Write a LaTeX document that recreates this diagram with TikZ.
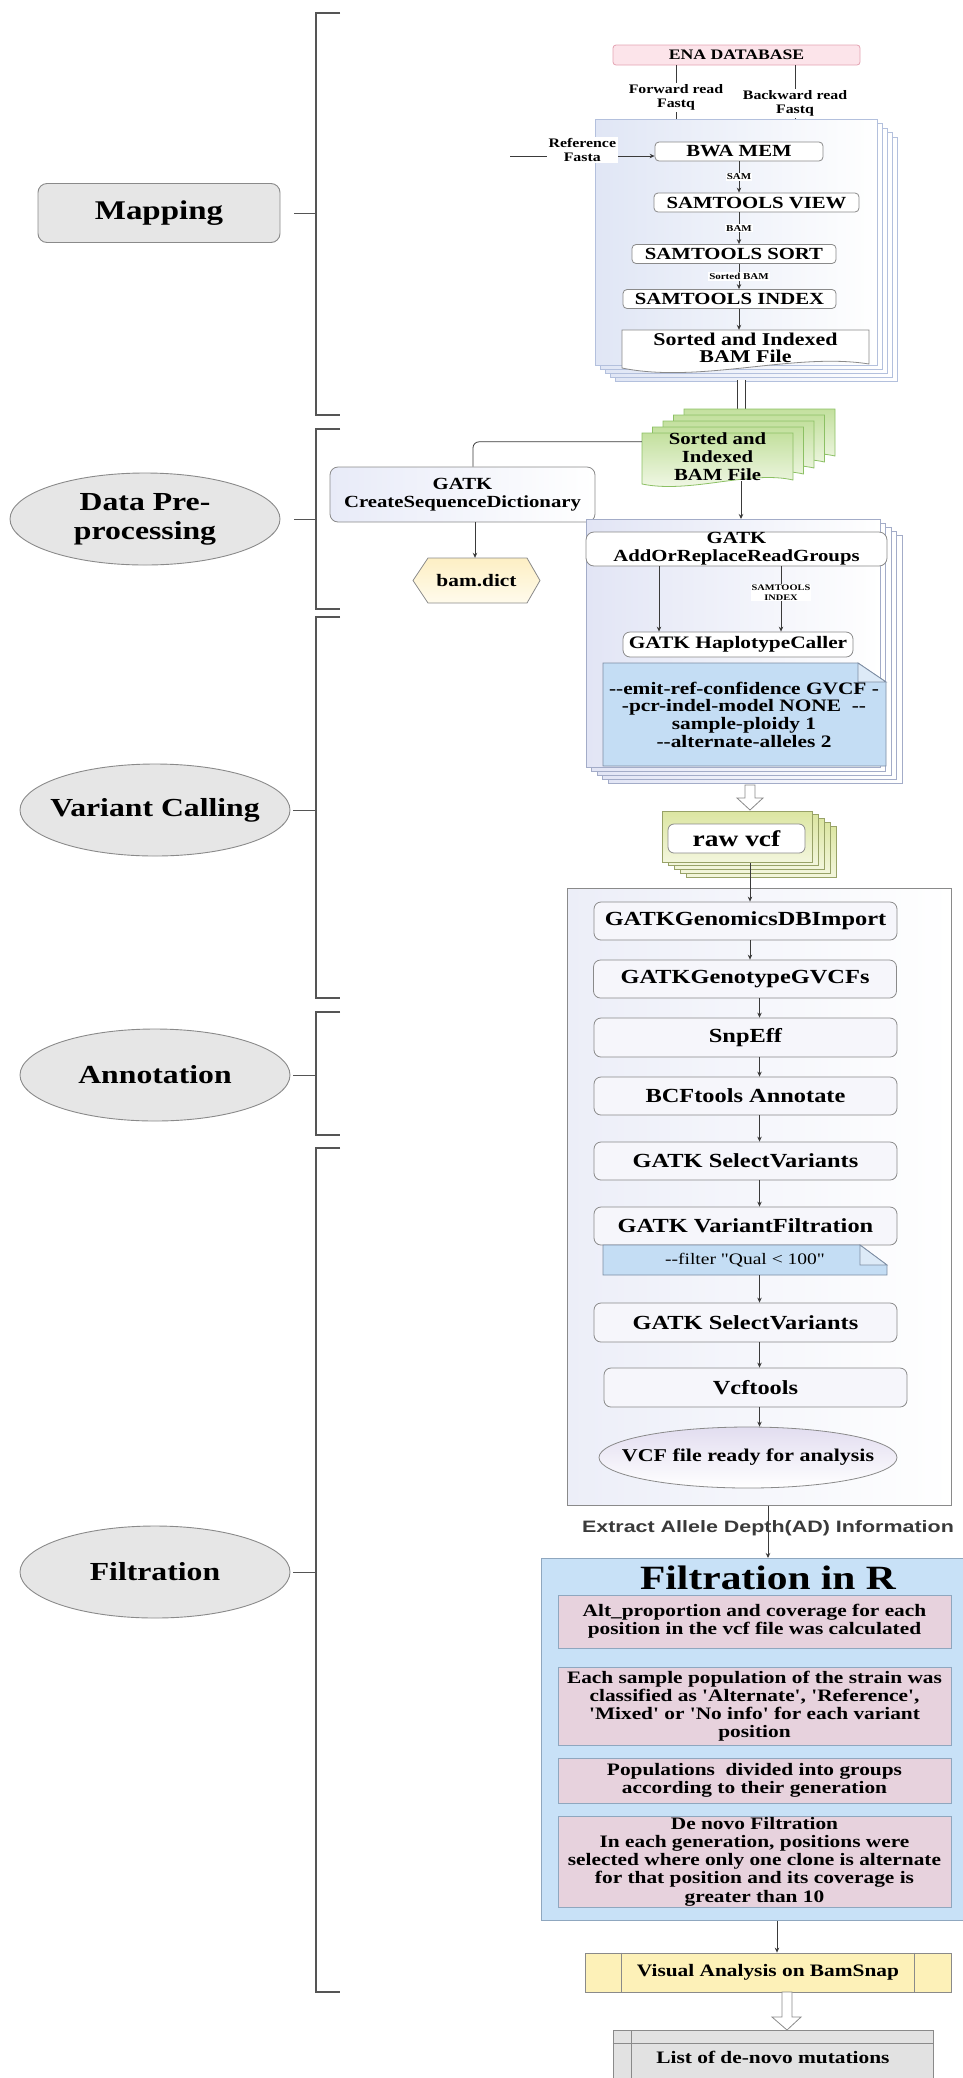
\documentclass[tikz,border=0pt]{standalone}
\usepackage{fontspec}
\newfontfamily\rmx{Liberation Serif}[FakeStretch=1.22]
\newfontfamily\sansx{Liberation Sans}[FakeStretch=1.3]
\usetikzlibrary{arrows.meta,shapes.geometric,calc}
\definecolor{edge}{HTML}{8A8A8A}
\definecolor{dark}{HTML}{3A3A3A}
\definecolor{brkc}{HTML}{555555}
\definecolor{lgray}{HTML}{E6E6E6}
\definecolor{pinkfill}{HTML}{FCE4EA}
\definecolor{pinkedge}{HTML}{E4A3B2}
\definecolor{mstackL}{HTML}{E0E6F5}
\definecolor{mstackE}{HTML}{B3C0DD}
\definecolor{vstackL}{HTML}{E2E5F5}
\definecolor{vstackE}{HTML}{A3ACC8}
\definecolor{greenT}{HTML}{C3E09E}
\definecolor{greenB}{HTML}{F6FAEE}
\definecolor{greenE}{HTML}{8CC064}
\definecolor{olvT}{HTML}{DCE6A2}
\definecolor{olvB}{HTML}{F3F6DD}
\definecolor{olvE}{HTML}{98A267}
\definecolor{noteblue}{HTML}{C4DDF4}
\definecolor{notefold}{HTML}{DDEAF7}
\definecolor{noteedge}{HTML}{7D8DA3}
\definecolor{bigL}{HTML}{ECEEF8}
\definecolor{procfill}{HTML}{F6F6FB}
\definecolor{ellT}{HTML}{E2DDF0}
\definecolor{fblue}{HTML}{C8E1F7}
\definecolor{fedge}{HTML}{8FA7BF}
\definecolor{pinkbox}{HTML}{E7D2DD}
\definecolor{yelbox}{HTML}{FDF1B8}
\definecolor{hexT}{HTML}{FDEFC4}
\definecolor{hexB}{HTML}{FFFBEC}
\definecolor{listgray}{HTML}{E2E2E2}
\definecolor{csdL}{HTML}{E8EBF8}
\newcommand{\myB}[2]{\rmx\bfseries\fontsize{#1}{#2}\selectfont}
\newcommand{\myR}[2]{\rmx\fontsize{#1}{#2}\selectfont}
\tikzset{
 arr/.style={draw=dark, line width=0.8pt, -{Stealth[length=5pt,width=4.5pt]}},
 ln/.style={draw=dark, line width=0.8pt},
 brk/.style={draw=brkc, line width=1.8pt},
 tickl/.style={draw=brkc, line width=1pt},
 tx/.style={align=center, inner sep=0pt, text=black},
 leftbox/.style={tx, draw=edge, fill=lgray, line width=0.9pt},
 leftell/.style={ellipse, draw=edge, fill=lgray, line width=0.9pt, minimum width=270, minimum height=92, inner sep=0pt},
 pbox/.style={tx, draw=edge, fill=white, line width=0.8pt, rounded corners=4pt},
 proc/.style={tx, draw=edge, fill=procfill, line width=0.8pt, rounded corners=7pt, minimum width=303, minimum height=38, font=\myB{20}{22}},
 mini/.style={tx, fill=white, inner sep=1pt, font=\myB{9}{10}},
 lbl/.style={tx, inner sep=1.5pt, font=\myB{13}{14}},
 mstack/.style={draw=mstackE, left color=mstackL, right color=white, line width=0.8pt},
 vstack/.style={draw=vstackE, left color=vstackL, right color=white, line width=0.8pt},
 gsheet/.style={draw=greenE, top color=greenT, bottom color=greenB, line width=0.8pt},
 ostack/.style={draw=olvE, top color=olvT, bottom color=olvB, line width=0.8pt},
 note/.style={draw=noteedge, fill=noteblue, line width=0.8pt},
 notef/.style={draw=noteedge, fill=notefold, line width=0.8pt},
 hollow/.style={draw=edge, fill=white, line width=0.8pt},
 pk/.style={tx, draw=fedge, fill=pinkbox, line width=0.9pt, minimum width=393, font=\myB{17.5}{18.2}},
 dbl/.style={draw=dark, double=white, double distance=7.5pt, line width=0.8pt}
}
\begin{document}
\begin{tikzpicture}[x=1pt,y=-1pt]
\useasboundingbox (0,0) rectangle (963,2078);

% ---------------- left column ----------------
\node[leftbox, rounded corners=9pt, minimum width=242, minimum height=59, font=\myB{27}{30}] (map) at (159,213) {Mapping};
\node[leftell] (dpp) at (145,519) {};
\node[tx, font=\myB{26}{29}] (dppt) at (dpp) {Data Pre-\\processing};
\node[leftell] (vc) at (155,810) {};
\node[tx, font=\myB{26}{29}] (vct) at (vc) {Variant Calling};
\node[leftell] (ann) at (155,1075) {};
\node[tx, font=\myB{26}{29}] (annt) at (ann) {Annotation};
\node[leftell] (fil) at (155,1572) {};
\node[tx, font=\myB{26}{29}] (filt) at (fil) {Filtration};

\draw[brk] (340,13) -- (316,13) -- (316,415) -- (340,415);
\draw[brk] (340,429) -- (316,429) -- (316,609) -- (340,609);
\draw[brk] (340,617) -- (316,617) -- (316,998) -- (340,998);
\draw[brk] (340,1012) -- (316,1012) -- (316,1135) -- (340,1135);
\draw[brk] (340,1148) -- (316,1148) -- (316,1992) -- (340,1992);
\coordinate (bx) at (316,0);
\draw[tickl] ([xshift=14pt]map.east) -- (map.east -| bx);
\draw[tickl] ([xshift=14pt]dpp.east) -- (dpp.east -| bx);
\draw[tickl] ([xshift=3pt]vc.east) -- (vc.east -| bx);
\draw[tickl] ([xshift=3pt]ann.east) -- (ann.east -| bx);
\draw[tickl] ([xshift=3pt]fil.east) -- (fil.east -| bx);

% ---------------- mapping ----------------
\node[tx, draw=pinkedge, fill=pinkfill, rounded corners=3pt, line width=0.8pt, minimum width=247, minimum height=20, font=\myB{14.5}{16}] (ena) at (736.5,55) {ENA DATABASE};
\node[lbl] (fwd) at (676,97.5) {Forward read\\Fastq};
\node[lbl] (bwd) at (795,103.5) {Backward read\\Fastq};

\foreach \k in {4,3,2,1} \draw[mstack] (595+5*\k,119+4.5*\k) rectangle (877+5*\k,365+4*\k);
\node[mstack, anchor=north west, minimum width=282, minimum height=246, inner sep=0pt] (mfront) at (595,119) {};

\draw[ln] (ena.south -| fwd) -- (fwd.north);
\draw[ln] (fwd.south) -- (fwd.south |- mfront.north);
\draw[ln] (ena.south -| bwd) -- (bwd.north);
\draw[ln] (bwd.south) -- (bwd.south |- mfront.north);

\node[pbox, minimum width=168, minimum height=19, font=\myB{17}{18}] (bwa) at (739,151.5) {BWA MEM};
\node[pbox, minimum width=205, minimum height=19, font=\myB{17}{18}] (view) at (756.5,202.5) {SAMTOOLS VIEW};
\node[pbox, minimum width=204, minimum height=19, font=\myB{17}{18}] (sort) at (734,254) {SAMTOOLS SORT};
\node[pbox, minimum width=213, minimum height=19, font=\myB{17}{18}] (index) at (729.5,299) {SAMTOOLS INDEX};

\coordinate (refin) at (510,156);
\draw[arr] (refin) -- node[lbl, fill=white, yshift=6pt] (reflab) {Reference\\Fasta} (bwa.west |- refin);

\coordinate (mx) at (739,0);
\draw[arr] (bwa.south -| mx) -- node[mini] {SAM} (view.north -| mx);
\draw[arr] (view.south -| mx) -- node[mini] {BAM} (sort.north -| mx);
\draw[arr] (sort.south -| mx) -- node[mini] {Sorted BAM} (index.north -| mx);

\draw[draw=edge, fill=white, line width=0.8pt] (622,330) -- (869,330) -- (869,364) .. controls (795,352) and (700,384) .. (622,368) -- cycle;
\node[tx, minimum width=247, minimum height=36, font=\myB{18}{17}] (sbam) at (745.5,348) {Sorted and Indexed\\BAM File};
\draw[arr] (index.south -| mx) -- (sbam.north -| mx);

% ---------------- data pre-processing ----------------
\coordinate (mbot) at (741.5,380);
\coordinate (gtop) at (741.5,409);
\draw[dbl] (mbot) -- (gtop);

\foreach \k in {4,3,2,1} {
 \begin{scope}[shift={(10.5*\k,-6*\k)}]
 \draw[gsheet] (642,433) -- (793,433) -- (793,480) .. controls (750,470) and (690,494) .. (642,484) -- cycle;
 \end{scope}
}
\draw[gsheet] (642,433) -- (793,433) -- (793,480) .. controls (750,470) and (690,494) .. (642,484) -- cycle;
\node[tx, minimum width=151, minimum height=48, font=\myB{17}{18}] (gbam) at (717.5,457) {Sorted and\\Indexed\\BAM File};

\node[tx, draw=edge, left color=csdL, right color=white, rounded corners=8pt, line width=0.8pt, minimum width=265, minimum height=55, font=\myB{17}{18}] (csd) at (462.5,494.5) {GATK\\CreateSequenceDictionary};
\draw[ln, rounded corners=6pt] ([yshift=-9pt]gbam.north west) -| ([xshift=10.5pt]csd.north);

\draw[draw=edge, top color=hexT, bottom color=hexB, line width=0.8pt] (413,580.5) -- (428,558) -- (527,558) -- (540,580.5) -- (527,603) -- (428,603) -- cycle;
\node[tx, minimum width=127, minimum height=45, font=\myB{17.5}{19}] (bd) at (476.5,580.5) {bam.dict};
\coordinate (cx) at (475,0);
\draw[arr] (csd.south -| cx) -- (bd.north -| cx);

% ---------------- variant calling stack ----------------
\foreach \k in {4,3,2,1} \draw[vstack] (586+5.5*\k,519+4*\k) rectangle (880+5.5*\k,767+4*\k);
\node[vstack, anchor=north west, minimum width=294, minimum height=248, inner sep=0pt] (vfront) at (586,519) {};
\coordinate (gx) at (741,0);
\draw[arr] (gbam.south -| gx) -- (vfront.north -| gx);

\node[pbox, rounded corners=8pt, minimum width=301, minimum height=34, font=\myB{17}{18}] (aor) at (736.5,549) {GATK\\AddOrReplaceReadGroups};
\node[pbox, rounded corners=7pt, minimum width=230, minimum height=25, font=\myB{17.5}{19}] (hc) at (738,644.5) {GATK HaplotypeCaller};
\coordinate (ax1) at (659,0);
\coordinate (ax2) at (781,0);
\draw[arr] (aor.south -| ax1) -- (hc.north -| ax1);
\draw[arr] (aor.south -| ax2) -- node[mini, pos=0.4, font=\myB{8.5}{9.5}] {SAMTOOLS\\INDEX} (hc.north -| ax2);

\draw[note] (603,663) -- (858,663) -- (886,682) -- (886,766) -- (603,766) -- cycle;
\draw[notef] (858,663) -- (858,682) -- (886,682) -- cycle;
\node[tx, font=\myB{17.5}{17.7}] (n1) at (744,714.5) {--emit-ref-confidence GVCF -\\-pcr-indel-model NONE\ \ --\\sample-ploidy 1\\--alternate-alleles 2};

\draw[hollow] (745,785) -- (755,785) -- (755,798) -- (763,798) -- (750,810) -- (737,798) -- (745,798) -- cycle;

\foreach \k in {4,3,2,1} \draw[ostack] (662+6*\k,811+3.8*\k) rectangle (812+6*\k,862+3.8*\k);
\node[ostack, anchor=north west, minimum width=150, minimum height=51, inner sep=0pt] (rfront) at (662,811) {};
\node[pbox, rounded corners=6pt, minimum width=137, minimum height=29, font=\myB{22.5}{24}] (rvcf) at (736.5,838.5) {raw vcf};

% ---------------- big box ----------------
\node[draw=edge, left color=bigL, right color=white, line width=0.8pt, anchor=north west, minimum width=384, minimum height=617, inner sep=0pt] (big) at (567,888) {};

\node[proc] (gdb) at (745.5,921) {GATKGenomicsDBImport};
\node[proc] (ggv) at (745,979) {GATKGenotypeGVCFs};
\node[proc, minimum height=39] (snp) at (745.5,1037.5) {SnpEff};
\node[proc] (bcf) at (745.5,1096) {BCFtools Annotate};
\node[proc] (sv1) at (745.5,1161) {GATK SelectVariants};
\node[proc] (vf) at (745.5,1226) {GATK VariantFiltration};
\draw[note] (603,1245) -- (860,1245) -- (887,1265) -- (887,1275) -- (603,1275) -- cycle;
\draw[notef] (860,1245) -- (860,1265) -- (887,1265) -- cycle;
\node[tx, minimum width=284, minimum height=30, font=\myR{16}{18}] (n2) at (745,1260) {--filter "Qual < 100"};
\node[proc, minimum height=39] (sv2) at (745.5,1322.5) {GATK SelectVariants};
\node[proc, minimum height=39] (vcft) at (755.5,1387.5) {Vcftools};
\node[ellipse, draw=edge, top color=ellT, bottom color=white, line width=0.8pt, minimum width=298, minimum height=61, inner sep=0pt, font=\myB{18}{20}] (vcfe) at (748,1457.5) {\makebox[0pt]{VCF file ready for analysis}};

\coordinate (rx) at (750,0);
\coordinate (ax) at (759.5,0);
\draw[arr] (rfront.south -| rx) -- (gdb.north -| rx);
\draw[arr] (gdb.south -| rx) -- (ggv.north -| rx);
\draw[arr] (ggv.south -| ax) -- (snp.north -| ax);
\draw[arr] (snp.south -| ax) -- (bcf.north -| ax);
\draw[arr] (bcf.south -| ax) -- (sv1.north -| ax);
\draw[arr] (sv1.south -| ax) -- (vf.north -| ax);
\draw[arr] (n2.south -| ax) -- (sv2.north -| ax);
\draw[arr] (sv2.south -| ax) -- (vcft.north -| ax);
\draw[arr] (vcft.south -| ax) -- (vcfe.north -| ax);

% ---------------- filtration in R ----------------
\node[draw=fedge, fill=fblue, line width=1pt, anchor=north west, minimum width=427, minimum height=362, inner sep=0pt] (fbox) at (541,1558) {};
\coordinate (ex) at (768,0);
\draw[arr] (big.south -| ex) -- node[pos=0.42, inner sep=0pt, font=\sansx\bfseries\fontsize{16.5}{18}\selectfont, text=dark] (extract) {Extract Allele Depth(AD) Information} (fbox.north -| ex);
\node[tx, font=\myB{34}{36}] (ftitle) at (768,1578) {Filtration in R};

\node[pk, minimum height=53] (p1) at (754.5,1621.5) {Alt\_proportion and coverage for each\\position in the vcf file was calculated};
\node[pk, minimum height=78] (p2) at (754.5,1706) {Each sample population of the strain was\\classified as 'Alternate', 'Reference',\\'Mixed' or 'No info' for each variant\\position};
\node[pk, minimum height=45] (p3) at (754.5,1780.5) {Populations\ \ divided into groups\\according to their generation};
\node[pk, minimum height=91] (p4) at (754.5,1861.5) {De novo Filtration\\In each generation, positions were\\selected where only one clone is alternate\\for that position and its coverage is\\greater than 10};

\node[tx, draw=edge, fill=yelbox, line width=0.8pt, minimum width=366, minimum height=39, font=\myB{17.5}{20}] (vis) at (768,1972.5) {Visual Analysis on BamSnap};
\draw[draw=edge, line width=0.8pt] ([xshift=37pt]vis.north west) -- ([xshift=37pt]vis.south west);
\draw[draw=edge, line width=0.8pt] ([xshift=-37pt]vis.north east) -- ([xshift=-37pt]vis.south east);
\coordinate (vx) at (777,0);
\draw[arr] (fbox.south -| vx) -- (vis.north -| vx);

\draw[hollow] (782,1992) -- (792,1992) -- (792,2017) -- (801,2017) -- (787,2030) -- (772,2017) -- (782,2017) -- cycle;

\node[tx, draw=edge, fill=listgray, line width=0.8pt, anchor=north, minimum width=320, minimum height=54, font=\myB{17.5}{20}] (list) at (773,2030) {List of de-novo mutations};
\draw[draw=edge, line width=0.8pt] ([xshift=19pt]list.north west) -- ([xshift=19pt]list.south west);
\draw[draw=edge, line width=0.8pt] ([yshift=-13pt]list.north west) -- ([yshift=-13pt]list.north east);
\end{tikzpicture}
\end{document}
